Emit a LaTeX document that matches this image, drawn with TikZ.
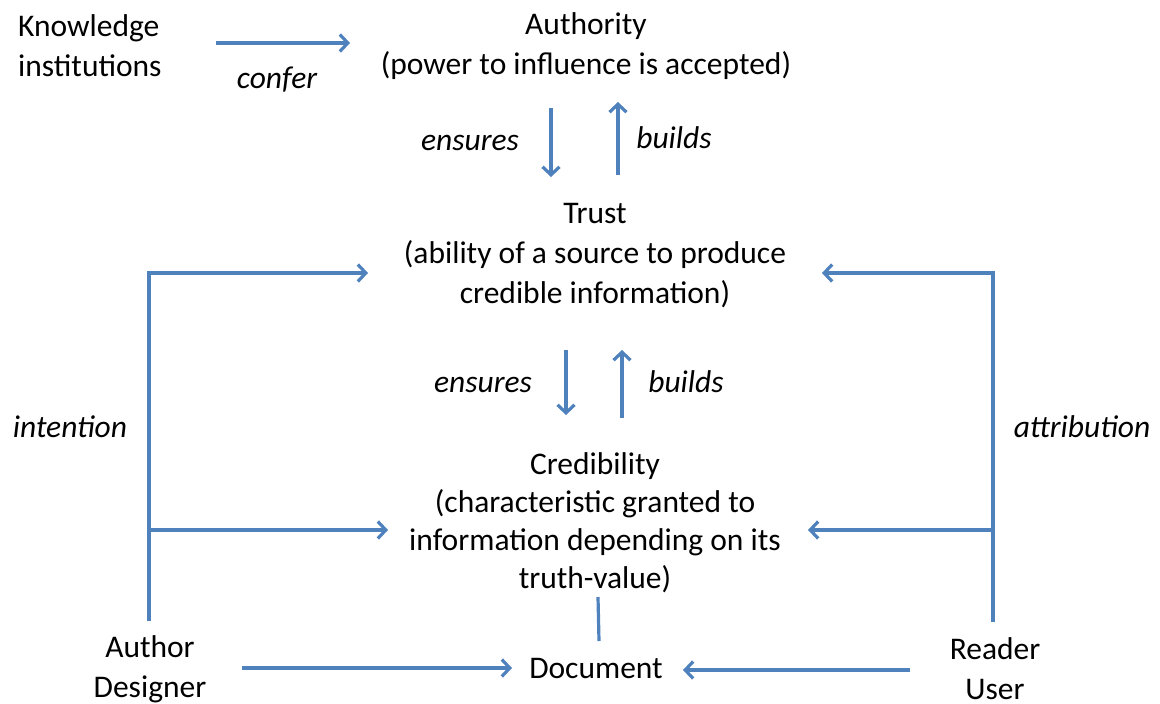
\documentclass[tikz,border=0pt]{standalone}
\usepackage{fontspec}
\setmainfont{Carlito}
\usetikzlibrary{arrows.meta}
\definecolor{lblue}{HTML}{4F81BD}
\begin{document}
\begin{tikzpicture}[x=1pt,y=-1pt,
  txt/.style={font=\fontsize{31.5}{40}\selectfont, align=center, inner sep=0pt},
  lab/.style={font=\fontsize{31.5}{40}\selectfont\itshape, inner sep=0pt},
  conn/.style={draw=lblue, line width=3.2pt},
  arr/.style={conn, -{Straight Barb[length=8pt,width=17pt,line width=3.2pt]}}]
\useasboundingbox (0,0) rectangle (1160,704);
\node[txt, align=left, anchor=west] (know) at (18,46) {Knowledge\\institutions};
\node[txt] (auth) at (586,46) {Authority\\(power to influence is accepted)};
\node[txt] (trust) at (595,256) {Trust\\(ability of a source to produce\\credible information)};
\node[txt, font=\fontsize{31.5}{38}\selectfont] (cred) at (595,523) {Credibility\\(characteristic granted to\\information depending on its\\truth-value)};
\node[txt] (doc) at (596,669) {Document};
\node[txt] (author) at (150,669) {Author\\Designer};
\node[txt] (reader) at (995,669) {Reader\\User};
\node[lab] (confer) at (277,80) {confer};
\node[lab] (ens1) at (470,143) {ensures};
\node[lab] (bld1) at (674,138) {builds};
\node[lab] (ens2) at (483,385) {ensures};
\node[lab] (bld2) at (686,382) {builds};
\node[lab] (intent) at (70,427) {intention};
\node[lab] (attr) at (1082,427) {attribution};
% coordinates
\coordinate (k1) at (216,43); \coordinate (k2) at (350,43);
\coordinate (a1) at (551,108); \coordinate (a2) at (551,177);
\coordinate (b1) at (618,175); \coordinate (b2) at (618,102);
\coordinate (c1) at (566,350); \coordinate (c2) at (566,415);
\coordinate (d1) at (622,418); \coordinate (d2) at (622,350);
\coordinate (lb) at (149,621); \coordinate (lt) at (149,273);
\coordinate (lte) at (368,273); \coordinate (lm) at (149,530); \coordinate (lme) at (388,530);
\coordinate (rb) at (993,622); \coordinate (rt) at (993,273);
\coordinate (rte) at (822,273); \coordinate (rm) at (993,530); \coordinate (rme) at (808,530);
\coordinate (s1) at (598,597); \coordinate (s2) at (599,641);
\coordinate (u1) at (242,668); \coordinate (u2) at (512,668);
\coordinate (v1) at (910,670); \coordinate (v2) at (683,670);
\draw[arr] (k1) -- (k2);
\draw[arr] (a1) -- (a2);
\draw[arr] (b1) -- (b2);
\draw[arr] (c1) -- (c2);
\draw[arr] (d1) -- (d2);
\draw[arr] (lb) -- (lt) -- (lte);
\draw[arr] (lm) -- (lme);
\draw[arr] (rb) -- (rt) -- (rte);
\draw[arr] (rm) -- (rme);
\draw[conn] (s1) -- (s2);
\draw[arr] (u1) -- (u2);
\draw[arr] (v1) -- (v2);
\end{tikzpicture}
\end{document}
